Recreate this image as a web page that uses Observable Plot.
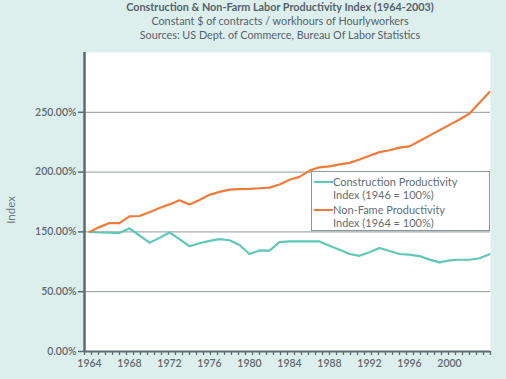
<!DOCTYPE html>
<html>
<head>
<meta charset="utf-8">
<script src="https://cdn.jsdelivr.net/npm/d3@7"></script>
<script src="https://cdn.jsdelivr.net/npm/@observablehq/plot@0.6"></script>
<style>
  html, body { margin: 0; padding: 0; }
  body { width: 506px; height: 379px; overflow: hidden; background: #ddefed; font-family: Lato, "Open Sans", sans-serif; }
  #title { height: 45px; box-sizing: border-box; padding-left: 54px; text-align: center; color: #55626a; font-size: 10.8px; line-height: 14px; }
  #title .t1 { font-weight: 700; }
  #wrap { position: relative; }
  #ylabel { position: absolute; left: 10px; top: 165px; transform: translate(-50%, -50%) rotate(-90deg); font-size: 11.5px; color: #6b777c; white-space: nowrap; }
  #legend { position: absolute; left: 311px; top: 126px; width: 179px; height: 60px; background: #fff; border: 1px solid #8c979b; box-sizing: border-box; padding: 3px 0 0 2px; font-size: 11px; color: #646e72; }
  #legend .item { display: flex; align-items: flex-start; margin-bottom: 2px; }
  #legend .sw { width: 19px; height: 2px; margin-top: 6px; flex: none; }
  #legend .lab { line-height: 13px; white-space: pre; }
</style>
</head>
<body>
<div id="title">
  <div class="t1">Construction &amp; Non-Farm Labor Productivity Index (1964-2003)</div>
  <div>Constant $ of contracts / workhours of Hourlyworkers</div>
  <div>Sources: US Dept. of Commerce, Bureau Of Labor Statistics</div>
</div>
<div id="wrap"></div>
<script>
// ---- data ----
const years = [1964,1965,1966,1967,1968,1969,1970,1971,1972,1973,1974,1975,1976,1977,1978,1979,1980,1981,1982,1983,1984,1985,1986,1987,1988,1989,1990,1991,1992,1993,1994,1995,1996,1997,1998,1999,2000,2001,2002,2003,2004];
const construction = [100,99.5,99.3,99,103,97,91,95,99.5,94,88,90.5,92.5,94,93,89,81.5,84.5,84.3,91.5,92,92,92,92,88.5,85,81.5,80,83,86.5,84,81.5,81,79.8,76.8,74.5,76.2,76.7,76.7,78,81.4];
const nonfarm = [100,104,107.4,107.4,113,113.3,116.5,120,123,126.5,123,126.7,131,133.5,135.3,135.8,136,136.5,137,139.6,143.6,146,151.2,154,154.8,156.5,157.7,160.5,163.7,166.7,168.3,170.5,171.5,176,180.5,185,189.5,194,199,208,217];
const seriesNames = ["Construction Productivity\nIndex (1946 = 100%)", "Non-Fame Productivity\nIndex (1964 = 100%)"];
const seriesColors = ["#5fc8b8", "#f07b37"];
const yTicks = [0, 50, 100, 150, 200];
const yTickLabels = ["0.00%", "50.00%", "150.00%", "200.00%", "250.00%"];
const xTickLabels = [1964, 1968, 1972, 1976, 1980, 1984, 1988, 1992, 1996, 2000];
const yAxisTitle = "Index";
const xDomain = [1963.5, 2004.1];
const yDomain = [0, 250];
const minorTickStep = 0.7;

const rows = [];
years.forEach((yr, i) => {
  rows.push({year: yr, value: construction[i], series: seriesNames[0]});
  rows.push({year: yr, value: nonfarm[i], series: seriesNames[1]});
});
const minorTicks = d3.range(xDomain[0], xDomain[1] + 0.01, minorTickStep);

const axisColor = "#5d6a70";
const chart = Plot.plot({
  width: 506,
  height: 334,
  marginTop: 7,
  marginBottom: 28,
  marginLeft: 84,
  marginRight: 16,
  style: { fontFamily: "Lato, 'Open Sans', sans-serif", fontSize: "10.5px", color: "#5f6a6f", background: "transparent" },
  x: { type: "linear", domain: xDomain },
  y: { domain: yDomain },
  color: { domain: seriesNames, range: seriesColors },
  marks: [
    Plot.frame({ fill: "#ffffff", stroke: null }),
    Plot.ruleY(yTicks.filter(d => d > 0), { stroke: "#8c979b", strokeWidth: 1 }),
    Plot.line(rows, { x: "year", y: "value", z: "series", stroke: "series", strokeWidth: 2.2, curve: "linear" }),
    Plot.axisY(yTicks, { tickSize: 6, tickPadding: 2, stroke: axisColor, strokeWidth: 1.5, fontSize: 10.5, fontWeight: 600, tickFormat: d => yTickLabels[yTicks.indexOf(d)], label: null }),
    Plot.axisX(minorTicks, { tickSize: 4, stroke: axisColor, strokeWidth: 1.3, tickFormat: () => "", label: null }),
    Plot.axisX(xTickLabels, { tickSize: 0, tickPadding: 8, fontSize: 10.5, fontWeight: 600, tickFormat: d => String(d), label: null }),
    Plot.ruleY([yDomain[0]], { stroke: axisColor, strokeWidth: 2 }),
    Plot.ruleX([xDomain[0]], { stroke: axisColor, strokeWidth: 2.5 })
  ]
});
const wrap = document.getElementById("wrap");
wrap.appendChild(chart);

const yl = document.createElement("div");
yl.id = "ylabel";
yl.textContent = yAxisTitle;
wrap.appendChild(yl);

// legend (HTML, inside the plot area)
const legend = document.createElement("div");
legend.id = "legend";
seriesNames.forEach((name, i) => {
  const item = document.createElement("div");
  item.className = "item";
  const sw = document.createElement("div");
  sw.className = "sw";
  sw.style.background = seriesColors[i];
  const lab = document.createElement("div");
  lab.className = "lab";
  lab.textContent = name;
  item.appendChild(sw);
  item.appendChild(lab);
  legend.appendChild(item);
});
wrap.appendChild(legend);
</script>
</body>
</html>
